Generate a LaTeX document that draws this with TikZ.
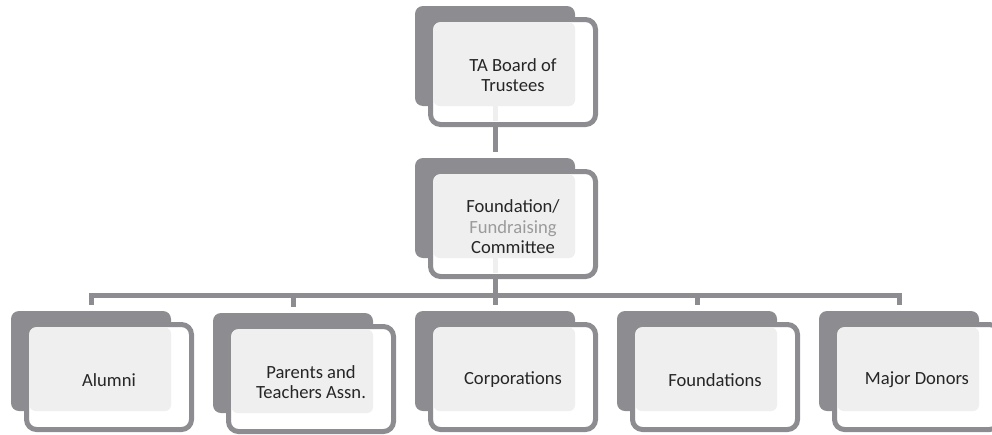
\documentclass[tikz,border=0pt]{standalone}
\usepackage{fontspec}
\setmainfont{Carlito}
\usetikzlibrary{positioning}

\definecolor{boxgray}{RGB}{141,141,145}
\definecolor{paneshade}{RGB}{239,239,239}
\definecolor{softgray}{RGB}{155,155,155}
\definecolor{inkgray}{RGB}{38,38,38}

\pgfdeclarelayer{background}
\pgfsetlayers{background,main}

\tikzset{
  backbox/.style={fill=boxgray, rounded corners=8pt, minimum width=160pt,
    minimum height=100pt, inner sep=0pt, outer sep=0pt},
  framebox/.style={draw=boxgray, fill=white, line width=5pt, rounded corners=10pt,
    minimum width=165pt, minimum height=105pt, inner sep=0pt, outer sep=0pt},
  pane/.style={fill=paneshade, rounded corners=6pt},
  unittext/.style={align=center, text=inkgray, font=\fontsize{18.6}{20.5}\selectfont},
  link/.style={draw=boxgray, line width=5pt, shorten >=6pt},
  ghostlink/.style={draw=paneshade, line width=5pt, shorten >=4pt}
}

% one unit of the chart: dark card, framed card, shaded pane, text
\newcommand{\orgunit}[4]{%
  \node[backbox] (#1b) at (#2-18,#3-16) {};
  \node[framebox] (#1) at (#2,#3) {};
  \fill[pane] ([xshift=3pt,yshift=-3pt]#1.north west) rectangle (#1b.south east);
  \node[unittext] (#1t) at ([yshift=-3pt]#1) {#4};
}

\begin{document}
\begin{tikzpicture}[x=1pt,y=-1pt]
    \useasboundingbox (0,0) rectangle (992,434);

    \orgunit{trustees}{513}{72}{TA Board of\\Trustees}
    \orgunit{fund}{513}{224}{Foundation/\\{\color{softgray}Fundraising}\\Committee}

    \orgunit{alumni}{109}{377}{Alumni}
    \orgunit{pta}{311}{379}{Parents and\\Teachers Assn.}
    \orgunit{corp}{513}{377}{Corporations}
    \orgunit{founds}{715}{377}{Foundations}
    \orgunit{donors}{917}{377}{Major Donors}

    \coordinate (bus) at (495,295);

    % faint stubs where the links leave the upper cards
    \draw[ghostlink] (trusteesb.south) -- (trusteesb.south |- trustees.south);
    \draw[ghostlink] (fundb.south) -- (fundb.south |- fund.south);

    \begin{pgfonlayer}{background}
        \draw[link] (trusteesb.south) -- (fundb.north);
        \draw[link, shorten >=0pt] (fundb.south) -- (fundb.south |- bus);
        \foreach \child in {alumni,pta,corp,founds,donors}
            \draw[link] (fundb.south |- bus) -| (\child b.north);
    \end{pgfonlayer}
\end{tikzpicture}
\end{document}
